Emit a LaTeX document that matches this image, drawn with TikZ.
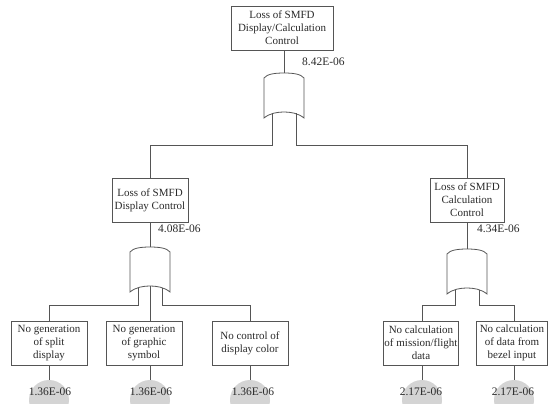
\documentclass[tikz,border=0pt]{standalone}
\usepackage{fontspec}
\setmainfont{Liberation Serif}
\definecolor{linec}{HTML}{555555}
\definecolor{txtc}{HTML}{2A2A2A}
\definecolor{circc}{HTML}{D4D4D4}
\tikzset{
  orgate/.pic={
    \draw[ln, fill=white] (-20,5) .. controls (-17,1) and (-9,0) .. (0,0)
      .. controls (9,0) and (17,1) .. (20,5) -- (20,45)
      .. controls (14,40) and (6,39) .. (0,39)
      .. controls (-6,39) and (-14,40) .. (-20,45) -- cycle;
    \coordinate (-out) at (0,0);
    \coordinate (-inL) at (-12,40.5);
    \coordinate (-inR) at (12,40.5);
    \coordinate (-inM) at (0,39);
  }
}
\begin{document}
\begin{tikzpicture}[x=1pt,y=-1pt,
  ln/.style={draw=linec, line width=0.8pt},
  ev/.style={draw=linec, line width=0.8pt, fill=white, minimum width=76pt, minimum height=44pt,
    align=center, inner sep=1pt, font=\fontsize{11}{13}\selectfont, text=txtc},
  val/.style={font=\fontsize{11.5}{12}\selectfont, text=txtc, inner sep=0pt},
  circ/.style={circle, fill=circc, minimum size=40pt, inner sep=0pt},
]
\clip (0,0) rectangle (552,404);
\fill[white] (0,0) rectangle (552,404);

% basic event circles
\node[circ] (c1) at (49,400) {};
\node[circ] (c2) at (150,400) {};
\node[circ] (c3) at (250,400) {};
\node[circ] (c4) at (422,400) {};
\node[circ] (c5) at (514,400) {};

% boxes
\node[ev, minimum width=102pt] (T) at (282,28) {Loss of SMFD\\Display/Calculation\\Control};
\node[ev] (L) at (150,200) {Loss of SMFD\\Display Control};
\node[ev, minimum width=74pt] (R) at (467,200) {Loss of SMFD\\Calculation\\Control};
\node[ev] (B1) at (49,343) {No generation\\of split\\display};
\node[ev] (B2) at (144,343) {No generation\\of graphic\\symbol};
\node[ev] (B3) at (250,343) {No control of\\display color};
\node[ev, minimum width=75pt] (B4) at (421,343) {No calculation\\of mission/flight\\data};
\node[ev, minimum width=71pt] (B5) at (512,343) {No calculation\\of data from\\bezel input};

% gates
\pic (g1) at (284,73) {orgate};
\pic (g2) at (150,247) {orgate};
\pic (g3) at (467,249) {orgate};

% connectors
\draw[ln] (T.south -| g1-out) -- (g1-out);
\draw[ln] (g1-inL) -- ++(0,31.5) -| (L.north);
\draw[ln] (g1-inR) -- ++(0,31.5) -| (R.north);
\draw[ln] (L.south) -- (g2-out);
\draw[ln] (R.south) -- (g3-out);
\draw[ln] (g2-inL) -- ++(0,17.5) -| (B1.north);
\draw[ln] (g2-inM) -- (g2-inM |- B2.north);
\draw[ln] (g2-inR) -- ++(0,17.5) -| (B3.north);
\draw[ln] (g3-inL) -- ++(0,15.5) -| (B4.north -| c4);
\draw[ln] (g3-inR) -- ++(0,15.5) -| (B5.north -| c5);
\draw[ln] (B1.south -| c1) -- (c1.north);
\draw[ln] (B2.south -| c2) -- (c2.north);
\draw[ln] (B3.south -| c3) -- (c3.north);
\draw[ln] (B4.south -| c4) -- (c4.north);
\draw[ln] (B5.south -| c5) -- (c5.north);

% probability values
\node[val, anchor=west] (v0) at (302,62) {8.42E-06};
\node[val, anchor=west] (v1) at (158,229) {4.08E-06};
\node[val, anchor=west] (v2) at (477,229) {4.34E-06};
\node[val] (v3) at (50,392) {1.36E-06};
\node[val] (v4) at (151,392) {1.36E-06};
\node[val] (v5) at (253,392) {1.36E-06};
\node[val] (v6) at (421,392) {2.17E-06};
\node[val] (v7) at (513,392) {2.17E-06};
\end{tikzpicture}
\end{document}
